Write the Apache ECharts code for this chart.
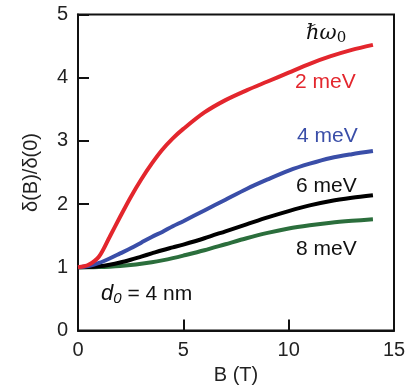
<!DOCTYPE html>
<html><head><meta charset="utf-8">
<script src="https://cdn.jsdelivr.net/npm/echarts@6/dist/echarts.min.js"></script>
<style>html,body{margin:0;padding:0;background:#fff}#c{width:411px;height:392px}</style>
</head><body><div id="c"></div>
<script>
const B = [0, 0.5, 1, 1.5, 2, 2.5, 3, 3.5, 4, 4.5, 5, 6, 7, 8, 9, 10, 11, 12, 13, 14];
const red2meV   = [1, 1.04, 1.17, 1.48, 1.80, 2.11, 2.39, 2.64, 2.86, 3.04, 3.19, 3.45, 3.645, 3.80, 3.94, 4.08, 4.22, 4.34, 4.44, 4.52];
const blue4meV  = [1, 1.02, 1.07, 1.14, 1.22, 1.30, 1.39, 1.48, 1.56, 1.65, 1.73, 1.90, 2.07, 2.24, 2.39, 2.53, 2.64, 2.73, 2.79, 2.84];
const black6meV = [1, 1.003, 1.015, 1.04, 1.075, 1.12, 1.17, 1.22, 1.27, 1.315, 1.36, 1.46, 1.57, 1.68, 1.79, 1.89, 1.98, 2.05, 2.10, 2.14];
const green8meV = [1, 1.0, 1.003, 1.01, 1.02, 1.035, 1.055, 1.08, 1.11, 1.145, 1.185, 1.27, 1.365, 1.46, 1.545, 1.615, 1.665, 1.705, 1.735, 1.76];
const xTicks = [0, 5, 10, 15];
const yTicks = [0, 1, 2, 3, 4, 5];

const chart = echarts.init(document.getElementById('c'), null, {renderer: 'canvas'});
const F = 'Liberation Sans, Arial, Helvetica, sans-serif';
function mk(vals, color, name) {
  return {type: 'line', name: name, data: B.map((b, i) => [b, vals[i]]), smooth: 0.3, symbol: 'none',
    lineStyle: {color: color, width: 4}, z: 3};
}
chart.setOption({
  animation: false,
  grid: {left: 78, top: 14.5, right: 17, bottom: 61.5, show: true, borderColor: '#111', borderWidth: 2},
  xAxis: {type: 'value', min: xTicks[0], max: xTicks[xTicks.length - 1], interval: 5,
    name: 'B (T)', nameLocation: 'middle', nameGap: 30,
    nameTextStyle: {fontFamily: F, fontSize: 20, color: '#222'},
    axisLine: {lineStyle: {color: '#111', width: 2}},
    axisTick: {inside: true, length: 11, lineStyle: {color: '#111', width: 2}},
    axisLabel: {fontFamily: F, fontSize: 20, color: '#222', margin: 10},
    splitLine: {show: false}},
  yAxis: {type: 'value', min: yTicks[0], max: yTicks[yTicks.length - 1], interval: 1,
    name: 'δ(B)/δ(0)', nameLocation: 'middle', nameGap: 37, nameRotate: 90,
    nameTextStyle: {fontFamily: F, fontSize: 20, color: '#222'},
    axisLine: {lineStyle: {color: '#111', width: 2}},
    axisTick: {inside: true, length: 11, lineStyle: {color: '#111', width: 2}},
    axisLabel: {fontFamily: F, fontSize: 20, color: '#222', margin: 10},
    splitLine: {show: false}},
  series: [mk(green8meV, '#2b6e3c', '8 meV'), mk(black6meV, '#000000', '6 meV'),
           mk(blue4meV, '#3a4ea8', '4 meV'), mk(red2meV, '#e3262d', '2 meV')],
  graphic: [
    {type: 'text', left: 306, top: 23, style: {
      text: '{a|ℏω}{s|0}', rich: {
        a: {fontFamily: 'DejaVu Serif, serif', fontStyle: 'italic', fontSize: 21, fill: '#111'},
        s: {fontFamily: 'DejaVu Serif, serif', fontSize: 15, fill: '#111', padding: [10, 0, 0, 0]}}}},
    {type: 'text', left: 295, top: 72, style: {text: '2 meV', fontFamily: F, fontSize: 21, fill: '#e3262d'}},
    {type: 'text', left: 297, top: 126, style: {text: '4 meV', fontFamily: F, fontSize: 21, fill: '#3a4ea8'}},
    {type: 'text', left: 296, top: 176, style: {text: '6 meV', fontFamily: F, fontSize: 21, fill: '#111'}},
    {type: 'text', left: 296, top: 239, style: {text: '8 meV', fontFamily: F, fontSize: 21, fill: '#111'}},
    {type: 'text', left: 101, top: 283, style: {
      text: '{d|d}{s|0}{t| = 4 nm}', rich: {
        d: {fontFamily: F, fontStyle: 'italic', fontSize: 22, fill: '#111'},
        s: {fontFamily: F, fontStyle: 'italic', fontSize: 15, fill: '#111', padding: [10, 0, 0, 0]},
        t: {fontFamily: F, fontSize: 21, fill: '#111'}}}}
  ]
});
</script></body></html>
